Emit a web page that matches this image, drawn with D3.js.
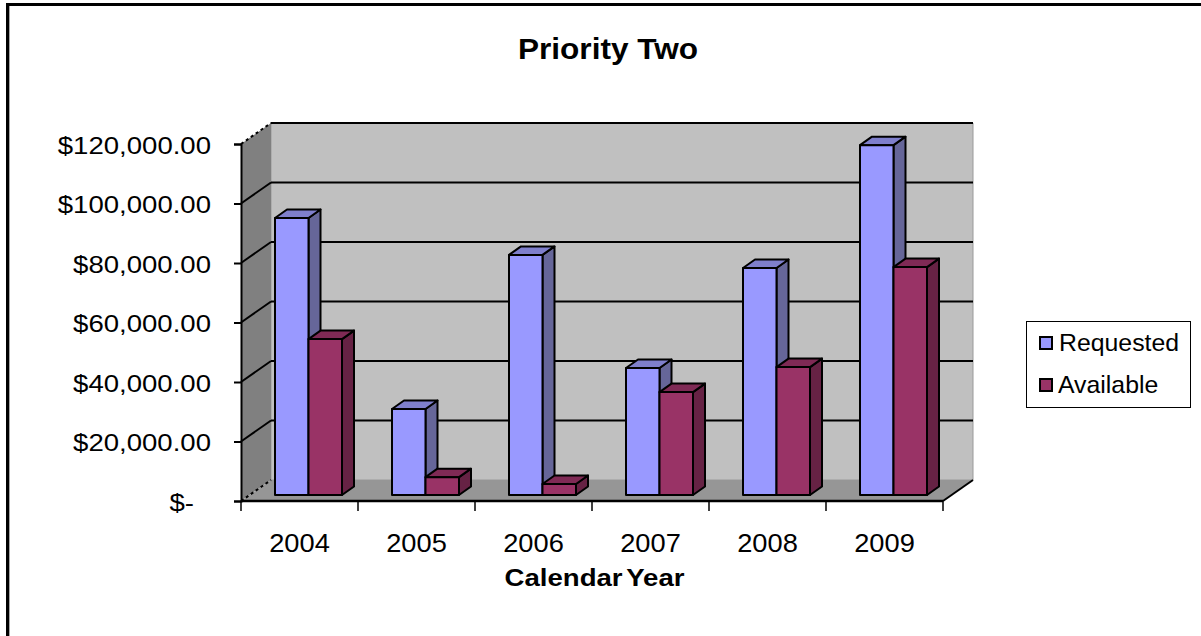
<!DOCTYPE html>
<html>
<head>
<meta charset="utf-8">
<script src="https://cdn.jsdelivr.net/npm/d3@7/dist/d3.min.js"></script>
<style>
html, body { margin: 0; padding: 0; background: #fff; }
svg { display: block; }
text { font-family: "Liberation Sans", Arial, sans-serif; fill: #000; }
</style>
</head>
<body>
<svg id="chart" width="1201" height="636"></svg>
<script>
// Funding per calendar year, in dollars
const years = ["2004", "2005", "2006", "2007", "2008", "2009"];
const requested = [93100, 28900, 80700, 42700, 76300, 117600];
const available = [52400, 6000, 3700, 34600, 43000, 76600];
const seriesNames = ["Requested", "Available"];
const yTicks = [0, 20000, 40000, 60000, 80000, 100000, 120000];

const palette = {
  Requested: { front: "#9999ff", side: "#666699", top: "#7f7fcc" },
  Available: { front: "#993366", side: "#662244", top: "#7f2a55" }
};

const svg = d3.select("#chart");

// Frame of the plot box: front plane plus the receding depth vector
const left = 241, right = 943, bottom = 501, topY = 144;
const depthX = 30, depthY = -21;
const barShiftX = 9, barShiftY = -6;
const barDepthX = 12, barDepthY = -8.5;

const x = d3.scaleBand().domain(years).range([left, right]);
const y = d3.scaleLinear().domain([0, 120000]).range([bottom, topY]);
const inner = d3.scaleBand().domain(seriesNames).range([x.bandwidth() / 2 - 33.5, x.bandwidth() / 2 + 33.5]);

const poly = pts => pts.map(p => p.join(",")).join(" ");

// Places a text at (tx, ty) and widens its glyphs horizontally
const placeWide = (sel, tx, ty, sx) =>
  sel.attr("x", 0).attr("y", 0).attr("dy", 0).attr("transform", `translate(${tx},${ty}) scale(${sx},1)`);

// Outer sheet edge along the top and left
svg.append("rect").attr("x", 6).attr("y", 3).attr("width", 1195).attr("height", 3).attr("fill", "#000");
svg.append("rect").attr("x", 6).attr("y", 3).attr("width", 3).attr("height", 633).attr("fill", "#000");
svg.append("rect").attr("x", 9).attr("y", 6).attr("width", 1).attr("height", 630).attr("fill", "#a6a6a6");

// Walls and floor
const walls = svg.append("g");
walls.append("polygon")
  .attr("points", poly([[left + depthX, topY + depthY], [right + depthX, topY + depthY], [right + depthX, bottom + depthY], [left + depthX, bottom + depthY]]))
  .attr("fill", "#c0c0c0").attr("stroke", "#9a9a9a").attr("stroke-width", 1);
walls.append("polygon")
  .attr("points", poly([[left, topY], [left + depthX, topY + depthY], [left + depthX, bottom + depthY], [left, bottom]]))
  .attr("fill", "#808080");
walls.append("polygon")
  .attr("points", poly([[left, bottom], [right, bottom], [right + depthX, bottom + depthY], [left + depthX, bottom + depthY]]))
  .attr("fill", "#969696");

// Gridlines fold from the side wall onto the back wall; the outer diagonals are stippled
yTicks.forEach(t => {
  const yy = y(t);
  if (t === 0) {
    svg.append("line")
      .attr("x1", left).attr("y1", yy).attr("x2", left + depthX).attr("y2", yy + depthY)
      .attr("stroke", "#000").attr("stroke-width", 2).attr("stroke-dasharray", "3,3");
    svg.append("line")
      .attr("x1", right).attr("y1", yy).attr("x2", right + depthX).attr("y2", yy + depthY)
      .attr("stroke", "#000").attr("stroke-width", 2);
    return;
  }
  const stippled = t === 120000;
  svg.append("line")
    .attr("x1", left).attr("y1", yy).attr("x2", left + depthX).attr("y2", yy + depthY)
    .attr("stroke", "#000").attr("stroke-width", 2)
    .attr("stroke-dasharray", stippled ? "3,3" : null);
  svg.append("line")
    .attr("x1", left + depthX).attr("y1", yy + depthY).attr("x2", right + depthX).attr("y2", yy + depthY)
    .attr("stroke", "#000").attr("stroke-width", 2);
});

// Extruded bars, each drawn as side, top, then front face
const stroke = { stroke: "#000", "stroke-width": 2, "stroke-linejoin": "round" };
const applyStroke = s => { Object.entries(stroke).forEach(([k, v]) => s.attr(k, v)); return s; };
const valuesOf = { Requested: requested, Available: available };

years.forEach((year, i) => {
  seriesNames.forEach(name => {
    const v = valuesOf[name][i];
    const x0 = x(year) + inner(name) + barShiftX;
    const x1 = x0 + inner.bandwidth();
    const y0 = y(0) + barShiftY;
    const y1 = y(v) + barShiftY;
    const g = svg.append("g").attr("class", "bar");
    applyStroke(g.append("polygon")
      .attr("points", poly([[x1, y0], [x1 + barDepthX, y0 + barDepthY], [x1 + barDepthX, y1 + barDepthY], [x1, y1]]))
      .attr("fill", palette[name].side));
    applyStroke(g.append("polygon")
      .attr("points", poly([[x0, y1], [x0 + barDepthX, y1 + barDepthY], [x1 + barDepthX, y1 + barDepthY], [x1, y1]]))
      .attr("fill", palette[name].top));
    applyStroke(g.append("rect")
      .attr("x", x0).attr("y", y1).attr("width", x1 - x0).attr("height", y0 - y1)
      .attr("fill", palette[name].front));
  });
});

// Axes
const moneyFormat = d3.format("$,.2f");
const yAxis = d3.axisLeft(y).tickValues(yTicks).tickSize(7).tickPadding(30)
  .tickFormat(d => d === 0 ? "$-" : moneyFormat(d));
const gy = svg.append("g").attr("transform", `translate(${left},0)`).call(yAxis);
gy.select(".domain").attr("stroke", "#000").attr("stroke-width", 2);
gy.selectAll(".tick line").attr("stroke", "#000").attr("stroke-width", 2);
gy.selectAll(".tick text")
  .style("font-size", "24.5px").attr("fill", "#000")
  .each(function (d) {
    placeWide(d3.select(this), d === 0 ? -47 : -30, 9, 1.125);
  });

const xAxis = d3.axisBottom(x).tickSize(0).tickPadding(0);
const gx = svg.append("g").attr("transform", `translate(0,${bottom})`).call(xAxis);
gx.select(".domain").remove();
gx.selectAll(".tick text")
  .style("font-size", "25px").attr("fill", "#000")
  .each(function () { placeWide(d3.select(this), 0, 51, 1.09); });
svg.append("line").attr("x1", left).attr("x2", right).attr("y1", bottom).attr("y2", bottom)
  .attr("stroke", "#000").attr("stroke-width", 2.5);
d3.range(years.length + 1).forEach(i => {
  const tx = left + x.step() * i;
  svg.append("line").attr("x1", tx).attr("x2", tx).attr("y1", bottom).attr("y2", bottom + 10)
    .attr("stroke", "#000").attr("stroke-width", 1.5);
});

// Titles
placeWide(svg.append("text").attr("text-anchor", "middle")
  .style("font-size", "30px").style("font-weight", "bold").text("Priority Two"), 608, 59, 1.053);
placeWide(svg.append("text").attr("text-anchor", "middle")
  .style("font-size", "23px").style("font-weight", "bold").style("word-spacing", "-3px").text("Calendar Year"), 594.5, 586, 1.2);

// Legend
const legend = svg.append("g");
legend.append("rect").attr("x", 1026.5).attr("y", 321.5).attr("width", 164).attr("height", 86)
  .attr("fill", "#fff").attr("stroke", "#000").attr("stroke-width", 1);
seriesNames.forEach((name, i) => {
  const top = 337 + i * 42;
  legend.append("rect").attr("x", 1040).attr("y", top).attr("width", 12).attr("height", 12)
    .attr("fill", palette[name].front).attr("stroke", "#000").attr("stroke-width", 2);
  placeWide(legend.append("text").style("font-size", "24px").text(name),
    i === 0 ? 1059 : 1058, top + 14, 1.035);
});
</script>
</body>
</html>
